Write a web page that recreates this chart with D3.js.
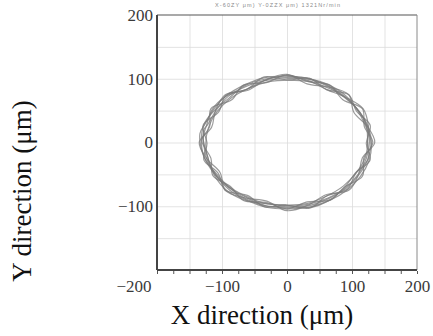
<!DOCTYPE html>
<html>
<head>
<meta charset="utf-8">
<script src="https://cdn.jsdelivr.net/npm/d3@7"></script>
<style>
  html, body { margin: 0; padding: 0; background: #fff; }
  svg { display: block; }
</style>
</head>
<body>
<div id="chart"></div>
<script>
// tick values (µm)
const xTicks = [-200, -100, 0, 100, 200];
const yTicks = [-100, 0, 100, 200];
const gridTicks = [-150, -100, -50, 0, 50, 100, 150];
const minorTicks = d3.range(-200, 201, 25);
const headerText = 'X-60ZY  μm)  Y-0ZZX  μm)  1321Nr/min';

// traced orbit loops, [x, y] in µm
const loopA = [[132,0],[119,25],[116,53],[86,67],[66,90],[32,96],[0,106],[-32,94],[-67,90],[-85,67],[-117,53],[-119,25],[-131,3],[-117,-25],[-114,-52],[-87,-69],[-67,-91],[-32,-94],[0,-104],[31,-93],[67,-90],[88,-70],[116,-53],[118,-25]];
const loopB = [[122,-2],[128,27],[107,49],[95,75],[61,83],[34,101],[2,98],[-35,103],[-61,84],[-94,74],[-105,48],[-129,27],[-123,-2],[-128,-27],[-106,-48],[-95,-75],[-61,-83],[-34,-101],[-2,-98],[35,-103],[61,-84],[93,-73],[106,-48],[128,-27]];
const loopC = [[124,5],[121,30],[107,54],[88,73],[60,91],[30,101],[-4,104],[-37,101],[-66,90],[-94,73],[-113,52],[-126,29],[-134,14],[-128,-22],[-112,-45],[-92,-67],[-66,-83],[-36,-95],[-3,-98],[30,-96],[61,-84],[87,-68],[107,-47],[121,-22]];
const loopD = [[130,-4],[126,22],[113,46],[93,68],[67,84],[36,95],[3,98],[-30,95],[-61,84],[-87,69],[-108,48],[-121,23],[-125,-4],[-120,-30],[-108,-54],[-88,-75],[-61,-91],[-30,-102],[3,-104],[36,-101],[67,-90],[93,-74],[113,-53],[126,-29]];
const loopE = [[135,0],[123,26],[103,47],[95,75],[64,87],[31,92],[0,107],[-33,98],[-60,82],[-95,75],[-110,50],[-116,24],[-135,0],[-123,-26],[-103,-47],[-95,-75],[-64,-87],[-31,-92],[0,-107],[33,-98],[60,-82],[95,-75],[110,-50],[116,-24]];
const loopF = [[124,1],[125,27],[117,53],[90,71],[61,83],[33,97],[0,105],[-33,98],[-61,84],[-93,73],[-115,52],[-124,26],[-129,8],[-121,-26],[-112,-51],[-94,-74],[-66,-90],[-32,-96],[2,-99],[35,-102],[66,-90],[89,-70],[105,-48],[125,-26]];
const loopG = [[129,3],[120,28],[108,51],[92,72],[65,90],[35,100],[1,102],[-31,100],[-65,89],[-89,70],[-111,51],[-126,32],[-131,16],[-129,-18],[-111,-50],[-89,-71],[-62,-89],[-31,-100],[-1,-102],[34,-99],[64,-88],[91,-72],[111,-50],[124,-27]];
const loopH = [[127,2],[124,24],[111,49],[89,70],[63,88],[34,99],[-2,100],[-34,97],[-63,88],[-91,72],[-110,49],[-122,28],[-128,20],[-124,-24],[-109,-51],[-90,-70],[-63,-86],[-33,-99],[1,-100],[32,-97],[63,-87],[89,-72],[110,-49],[122,-25]];
const loops = [loopA, loopB, loopC, loopD, loopE, loopF, loopG, loopH];

const W = 433, H = 336;
const margin = { top: 15, right: 16, bottom: 66, left: 157 };
const width = W - margin.left - margin.right;
const height = H - margin.top - margin.bottom;

const svg = d3.select('#chart').append('svg')
  .attr('width', W)
  .attr('height', H);

const g = svg.append('g')
  .attr('transform', `translate(${margin.left},${margin.top})`);

const x = d3.scaleLinear().domain([-200, 200]).range([0, width]);
const y = d3.scaleLinear().domain([-200, 200]).range([height, 0]);

// grid
g.append('g')
  .attr('transform', `translate(0,${height})`)
  .call(d3.axisBottom(x).tickValues(gridTicks).tickSize(-height).tickFormat(''))
  .call(a => a.select('.domain').remove())
  .call(a => a.selectAll('line').attr('stroke', '#dcdcdc').attr('stroke-width', 0.8));

g.append('g')
  .call(d3.axisLeft(y).tickValues(gridTicks).tickSize(-width).tickFormat(''))
  .call(a => a.select('.domain').remove())
  .call(a => a.selectAll('line').attr('stroke', '#dcdcdc').attr('stroke-width', 0.8));

// orbit traces
const line = d3.line()
  .x(d => x(d[0]))
  .y(d => y(d[1]))
  .curve(d3.curveCatmullRomClosed.alpha(0.5));

g.selectAll('.loop')
  .data(loops)
  .enter()
  .append('path')
  .attr('class', 'loop')
  .attr('d', line)
  .attr('fill', 'none')
  .attr('stroke', '#7a7a7a')
  .attr('stroke-opacity', 0.75)
  .attr('stroke-width', 1.2);

// frame
g.append('line').attr('x1', 0).attr('x2', width).attr('y1', 0).attr('y2', 0)
  .attr('stroke', '#555').attr('stroke-width', 1.2);
g.append('line').attr('x1', width).attr('x2', width).attr('y1', 0).attr('y2', height)
  .attr('stroke', '#8a8a8a').attr('stroke-width', 1);
g.append('line').attr('x1', 0).attr('x2', 0).attr('y1', 0).attr('y2', height)
  .attr('stroke', '#444').attr('stroke-width', 2);
g.append('line').attr('x1', 0).attr('x2', width).attr('y1', height).attr('y2', height)
  .attr('stroke', '#444').attr('stroke-width', 2.2);

// small ticks under the bottom edge
g.append('g')
  .attr('transform', `translate(0,${height + 1})`)
  .call(d3.axisBottom(x).tickValues(minorTicks).tickSize(3).tickFormat(''))
  .call(a => a.select('.domain').remove())
  .call(a => a.selectAll('line').attr('stroke', '#555'));

// tick labels
const xAxis = g.append('g')
  .attr('transform', `translate(0,${height})`)
  .call(d3.axisBottom(x).tickValues(xTicks).tickSize(0).tickPadding(10)
    .tickFormat(d => d < 0 ? '\u2212' + Math.abs(d) : d));
xAxis.select('.domain').remove();
xAxis.selectAll('text')
  .attr('font-family', '"Liberation Serif", "Times New Roman", serif')
  .attr('font-size', 17)
  .attr('fill', '#3a3a3a');
xAxis.selectAll('.tick').filter(d => d === -200).select('text')
  .attr('text-anchor', 'end').attr('dx', -6);

const yAxis = g.append('g')
  .call(d3.axisLeft(y).tickValues(yTicks).tickSize(0).tickPadding(4)
    .tickFormat(d => d < 0 ? '\u2212' + Math.abs(d) : d));
yAxis.select('.domain').remove();
yAxis.selectAll('text')
  .attr('font-family', '"Liberation Serif", "Times New Roman", serif')
  .attr('font-size', 17)
  .attr('fill', '#3a3a3a');

// tiny header printed by the instrument
svg.append('text')
  .attr('x', 215)
  .attr('y', 7)
  .attr('textLength', 125)
  .attr('lengthAdjust', 'spacing')
  .attr('font-family', '"Liberation Sans", sans-serif')
  .attr('font-size', 5.5)
  .attr('fill', '#8a8a8a')
  .text(headerText);

// axis titles
svg.append('text')
  .attr('x', 262)
  .attr('y', 324)
  .attr('text-anchor', 'middle')
  .attr('font-family', '"Liberation Serif", "Times New Roman", serif')
  .attr('font-size', 27)
  .attr('fill', '#111')
  .text('X direction (\u03bcm)');

svg.append('text')
  .attr('transform', 'translate(31,191) rotate(-90)')
  .attr('text-anchor', 'middle')
  .attr('font-family', '"Liberation Serif", "Times New Roman", serif')
  .attr('font-size', 27)
  .attr('fill', '#111')
  .text('Y direction (\u03bcm)');
</script>
</body>
</html>
